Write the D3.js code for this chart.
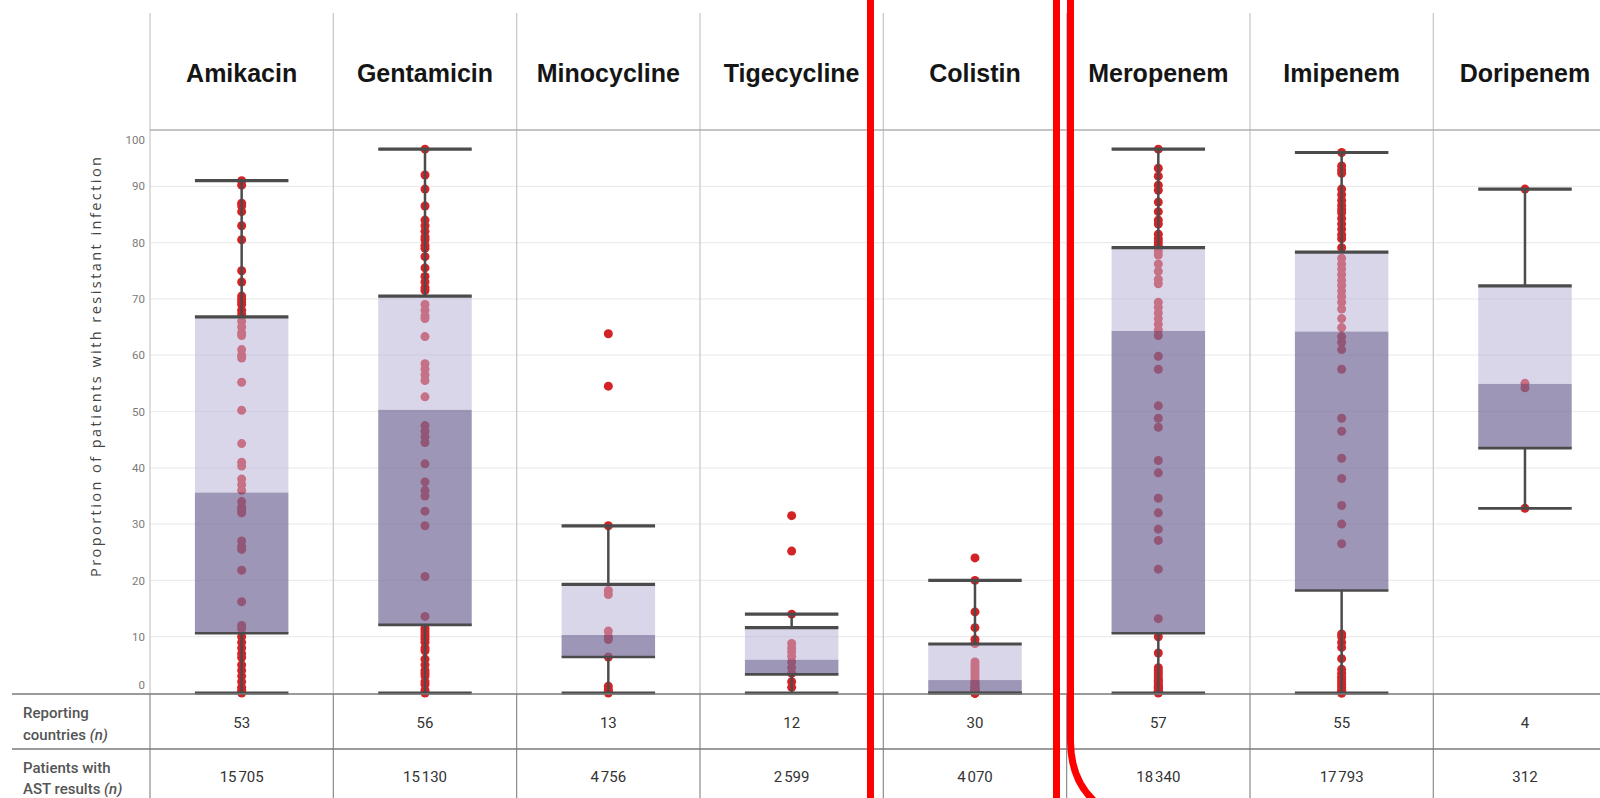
<!DOCTYPE html>
<html>
<head>
<meta charset="utf-8">
<script src="https://cdn.jsdelivr.net/npm/d3@7"></script>
<style>
  html, body { margin: 0; padding: 0; background: #fff; }
  svg { display: block; }
</style>
</head>
<body>
<svg id="chart" width="1600" height="798"></svg>
<script>
// Antibiotics shown as columns
const drugs = ["Amikacin", "Gentamicin", "Minocycline", "Tigecycline", "Colistin", "Meropenem", "Imipenem", "Doripenem"];

// Box summary per antibiotic (% resistant)
const whiskerLow  = [0, 0, 0, 0, 0, 0, 0, 32.8];
const q1          = [10.6, 12.1, 6.4, 3.3, 0, 10.6, 18.2, 43.5];
const medians     = [35.6, 50.3, 10.3, 5.9, 2.3, 64.3, 64.2, 54.9];
const q3          = [66.8, 70.5, 19.3, 11.6, 8.7, 79.1, 78.3, 72.3];
const whiskerHigh = [91.0, 96.6, 29.7, 14.0, 20.0, 96.6, 96.0, 89.5];

// Table rows under the plot
const reportingCountries = ["53", "56", "13", "12", "30", "57", "55", "4"];
const patientsWithAST = ["15\u202F705", "15\u202F130", "4\u202F756", "2\u202F599", "4\u202F070", "18\u202F340", "17\u202F793", "312"];

// Country-level resistance proportions (%)
const amikacin = [91, 90.2, 87, 86.5, 85.5, 83, 80.5, 75, 73, 70.5, 70, 69.5, 69, 68, 67.3, 66, 65, 64, 63.5, 61,
  60, 59.5, 55.2, 50.2, 44.3, 41, 40.3, 38, 37, 36, 34, 33, 32.5, 32, 27, 26, 25.5, 21.8, 16.2, 12,
  11.4, 10, 9, 8, 7, 6.3, 5, 4, 3, 2, 1, 0.5, 0];
const gentamicin = [96.6, 92, 89.5, 86.5, 84, 83, 82, 81, 80.5, 79.5, 79, 77.5, 75.5, 74, 73, 72, 71.5, 69, 68, 67,
  66.5, 63.3, 58.5, 57.5, 56.5, 55.5, 52.6, 47.5, 46.5, 45.5, 44.5, 40.7, 37.5, 36, 35, 32.3, 29.7, 20.7, 13.6, 11.5,
  11, 10.5, 10, 9.5, 9, 8, 7.5, 6, 5, 4, 3.5, 3, 2, 1.5, 0.5, 0];
const minocycline = [63.8, 54.5, 29.7, 18.2, 17.5, 11, 10, 9.5, 6.4, 1.2, 0.6, 0.3, 0];
const tigecycline = [31.5, 25.2, 14, 8.8, 8, 7.3, 6.5, 5.5, 4.5, 3.5, 2, 1];
const colistin = [24, 20, 14.4, 11.6, 9.5, 8.8, 5.5, 5, 4.5, 4, 3.5, 3, 2.5, 2, 1.8, 1.5, 1.2, 1, 0.8, 0.6,
  0.5, 0.4, 0.3, 0.2, 0.1, 0, 0, 0, 0, 0];
const meropenem = [96.6, 93.2, 91.8, 90.2, 89.3, 87.2, 85.5, 84, 83.3, 81.5, 80.7, 80.1, 79.5, 78.5, 77.8, 76.2, 74.9, 73.5, 72.7,
  69.4, 68.5, 67.5, 66.5, 65.5, 64.5, 63.5, 59.8, 57.5, 51, 48.8, 47.2, 41.3, 39.1, 34.6, 32, 29.1, 27.1, 22, 13.2,
  10, 7.1, 4.5, 4, 3.5, 3, 2.5, 2.2, 2, 1.5, 1.2, 1, 0.8, 0.5, 0.3, 0.2, 0.1, 0];
const imipenem = [96, 93.6, 92.9, 92.3, 89.5, 88.5, 87.5, 86.6, 85.9, 85.3, 84.3, 83.3, 82.4, 81.4, 80.7, 79.1, 77.2, 76.2, 75.3, 74.3,
  73.3, 72.4, 71.4, 70.4, 69.4, 68.2, 66.5, 64.9, 63.3, 62.3, 61, 57.5, 48.8, 46.5, 41.7, 38.1, 33.3, 30, 26.5, 10.5,
  10, 9, 8.1, 6.1, 4.2, 3.5, 2.9, 2.5, 2, 1.5, 1, 0.5, 0.2, 0, 0];
const doripenem = [89.5, 55, 54.2, 32.8];

const countryValues = [amikacin, gentamicin, minocycline, tigecycline, colistin, meropenem, imipenem, doripenem];

// Y-axis ticks
const yTicks = [0, 10, 20, 30, 40, 50, 60, 70, 80, 90, 100];

const svg = d3.select("#chart");
const W = 1600, H = 798;
const colW = 183.33;
const plotLeft = 150;
const gridTop = 13, headerLine = 130, tableTop = 694, tableMid = 749;

const x = d3.scaleBand().domain(drugs).range([plotLeft, plotLeft + colW * drugs.length]).padding(0);
const y = d3.scaleLinear().domain([0, 100]).range([693, 130]);
const cx = d => x(d) + x.bandwidth() / 2;
const halfBox = x.bandwidth() * 0.255;

// Horizontal grid lines
svg.append("g").selectAll("line")
  .data(yTicks.filter(t => t > 0 && t < 100))
  .join("line")
  .attr("x1", plotLeft).attr("x2", W)
  .attr("y1", d => y(d)).attr("y2", d => y(d))
  .attr("stroke", "#ececec").attr("stroke-width", 1.2);

// Column separators in the plot area and the table
const bounds = d3.range(drugs.length + 1).map(i => plotLeft + i * colW);
svg.append("g").selectAll("line")
  .data(bounds)
  .join("line")
  .attr("x1", d => d).attr("x2", d => d)
  .attr("y1", gridTop).attr("y2", tableTop)
  .attr("stroke", "#c6c6c6").attr("stroke-width", 1.2);
svg.append("g").selectAll("line")
  .data(bounds)
  .join("line")
  .attr("x1", d => d).attr("x2", d => d)
  .attr("y1", tableTop).attr("y2", H)
  .attr("stroke", "#8c8c8c").attr("stroke-width", 1.2);

// Line under the headers
svg.append("line")
  .attr("x1", plotLeft).attr("x2", W)
  .attr("y1", headerLine).attr("y2", headerLine)
  .attr("stroke", "#b0b0b0").attr("stroke-width", 1.3);

// Y axis labels
const yAxis = d3.axisLeft(y).tickValues(yTicks).tickSize(0).tickPadding(0);
const yg = svg.append("g").attr("transform", "translate(145,0)").call(yAxis);
yg.select(".domain").remove();
yg.selectAll("text")
  .attr("font-family", "Roboto, 'Open Sans', sans-serif")
  .attr("font-size", 11.5)
  .attr("fill", "#7a7a7a")
  .attr("dy", d => d === 0 ? "-0.4em" : d === 100 ? "1.15em" : "0.32em");

svg.append("text")
  .attr("transform", "translate(101,367) rotate(-90)")
  .attr("text-anchor", "middle")
  .attr("font-family", "'Open Sans', Roboto, sans-serif")
  .attr("font-size", 14.5)
  .attr("fill", "#444")
  .attr("textLength", 420)
  .attr("lengthAdjust", "spacing")
  .text("Proportion of patients with resistant infection");

// Country dots
const dots = svg.append("g");
drugs.forEach((d, i) => {
  dots.selectAll(null)
    .data(countryValues[i])
    .join("circle")
    .attr("cx", cx(d))
    .attr("cy", v => y(v))
    .attr("r", 4.5)
    .attr("fill", "#d42326");
});

// Boxes (semi-transparent so dots show through)
const boxes = svg.append("g");
drugs.forEach((d, i) => {
  boxes.append("rect")
    .attr("x", cx(d) - halfBox).attr("width", halfBox * 2)
    .attr("y", y(q3[i])).attr("height", y(medians[i]) - y(q3[i]))
    .attr("fill", "rgb(186,180,214)").attr("fill-opacity", 0.54);
  boxes.append("rect")
    .attr("x", cx(d) - halfBox).attr("width", halfBox * 2)
    .attr("y", y(medians[i])).attr("height", y(q1[i]) - y(medians[i]))
    .attr("fill", "rgb(118,107,152)").attr("fill-opacity", 0.71);
});

// Whiskers, caps and quartile edges
const wk = svg.append("g").attr("stroke", "#4b4b4b");
drugs.forEach((d, i) => {
  const c = cx(d);
  wk.append("line").attr("x1", c).attr("x2", c)
    .attr("y1", y(q3[i])).attr("y2", y(whiskerHigh[i])).attr("stroke-width", 2.5);
  wk.append("line").attr("x1", c).attr("x2", c)
    .attr("y1", y(q1[i])).attr("y2", y(whiskerLow[i])).attr("stroke-width", 2.5);
  [[whiskerHigh[i], 3.2], [q3[i], 3.2], [q1[i], 2.6], [whiskerLow[i], 2.8]].forEach(([v, w]) => {
    wk.append("line")
      .attr("x1", c - halfBox).attr("x2", c + halfBox)
      .attr("y1", y(v)).attr("y2", y(v))
      .attr("stroke-width", w);
  });
});

// Column headers
svg.append("g").selectAll("text")
  .data(drugs)
  .join("text")
  .attr("x", d => cx(d))
  .attr("y", 82)
  .attr("text-anchor", "middle")
  .attr("font-family", "'Liberation Sans', Arial, sans-serif")
  .attr("font-weight", "bold")
  .attr("font-size", 25)
  .attr("fill", "#151515")
  .text(d => d);

// Table
svg.append("g").selectAll("line")
  .data([tableTop, tableMid])
  .join("line")
  .attr("x1", 12).attr("x2", W)
  .attr("y1", d => d).attr("y2", d => d)
  .attr("stroke", "#7a7a7a").attr("stroke-width", 1.4);

const labelFont = "Roboto, 'Open Sans', sans-serif";
function rowLabel(lines, baselines) {
  const t = svg.append("text")
    .attr("font-family", labelFont)
    .attr("font-size", 15)
    .attr("font-weight", 500)
    .attr("fill", "#555");
  lines.forEach((ln, k) => {
    t.append("tspan").attr("x", 23).attr("y", baselines[k]).text(ln[0]);
    if (ln[1]) t.append("tspan").attr("font-style", "italic").text(ln[1]);
  });
}
rowLabel([["Reporting"], ["countries ", "(n)"]], [718, 740]);
rowLabel([["Patients with"], ["AST results ", "(n)"]], [773, 794]);

svg.append("g").selectAll("text")
  .data(drugs)
  .join("text")
  .attr("x", d => cx(d)).attr("y", 728)
  .attr("text-anchor", "middle")
  .attr("font-family", labelFont).attr("font-size", 15).attr("fill", "#333")
  .text((d, i) => reportingCountries[i]);
svg.append("g").selectAll("text")
  .data(drugs)
  .join("text")
  .attr("x", d => cx(d)).attr("y", 782)
  .attr("text-anchor", "middle")
  .attr("font-family", labelFont).attr("font-size", 15).attr("fill", "#333")
  .text((d, i) => patientsWithAST[i]);

// Red outlines grouping the antibiotics
const red = svg.append("g").attr("fill", "none").attr("stroke", "#ff0000").attr("stroke-width", 7);
red.append("line").attr("x1", 870.5).attr("x2", 870.5).attr("y1", 0).attr("y2", H);
red.append("line").attr("x1", 1056.5).attr("x2", 1056.5).attr("y1", 0).attr("y2", H);
red.append("path").attr("d", "M1070.5,0 V742 Q1071,784 1100,806");
</script>
</body>
</html>
